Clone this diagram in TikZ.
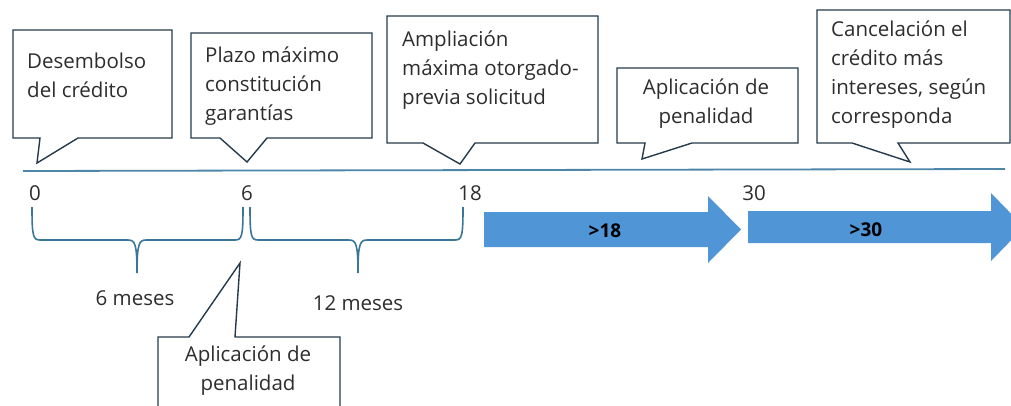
\documentclass[tikz,border=0pt]{standalone}
\usepackage{fontspec}
\setmainfont{Open Sans}
\usetikzlibrary{calc}

\definecolor{boxline}{RGB}{36,58,76}
\definecolor{axisline}{RGB}{78,134,170}
\definecolor{bracecol}{RGB}{58,118,152}
\definecolor{arrowfill}{RGB}{80,149,214}
\definecolor{txt}{RGB}{45,45,45}

\begin{document}
\begin{tikzpicture}[x=1pt,y=-1pt,
	callout/.style={draw=boxline, line width=1.4pt, line join=miter},
	lbl/.style={inner sep=0pt, text=txt, font=\fontsize{20.5}{29}\selectfont, align=left, anchor=north west},
	num/.style={inner sep=0pt, text=txt, font=\fontsize{20.5}{24}\selectfont},
	bracepath/.style={draw=bracecol, line width=1.6pt},
	arrowlbl/.style={inner sep=0pt, font=\fontsize{19}{22}\selectfont\bfseries}]
	\useasboundingbox (0,0) rectangle (1011,405);
	\clip (0,0) rectangle (1011,405);
	% eje de tiempo
	\coordinate (axis start) at (23,171);
	\coordinate (axis end) at (1005,169);
	\draw[draw=axisline, line width=1.8pt] (axis start) -- (axis end);
	% llamadas superiores
	\draw[callout] (13,30) -- (172,30) -- (172,138) -- (78,138) -- (37,163) -- (40,138) -- (13,138) -- cycle;
	\node[lbl] (desembolso) at (27,52.5) {Desembolso\\del crédito};
	\draw[callout] (191,33) -- (372,33) -- (372,138) -- (267,138) -- (247,162) -- (220,138) -- (191,138) -- cycle;
	\node[lbl] (plazo) at (205,47) {Plazo máximo\\constitución\\garantías};
	\draw[callout] (387,16) -- (598,16) -- (598,143) -- (475,143) -- (460,164) -- (423,143) -- (387,143) -- cycle;
	\node[lbl] (ampliacion) at (402,31) {Ampliación\\máxima otorgado-\\previa solicitud};
	\draw[callout] (617,68) -- (798,68) -- (798,143) -- (692,143) -- (642,159) -- (645,143) -- (617,143) -- cycle;
	\node[lbl, align=center, anchor=north] (penalidad top) at (706,79) {Aplicación de\\penalidad};
	\draw[callout] (817,10) -- (1010,10) -- (1010,143) -- (898,143) -- (910,162) -- (852,143) -- (817,143) -- cycle;
	\node[lbl] (cancelacion) at (831,21) {Cancelación el\\crédito más\\intereses, según\\corresponda};
	% marcas
	\node[num] (n0) at (35,193) {0};
	\node[num] (n6) at (247,193) {6};
	\node[num] (n18) at (470,193) {18};
	\node[num] (n30) at (754,193) {30};
	% llaves
	\draw[bracepath] (32,207) .. controls (32,236) and (33,240) .. (40,240) -- (128,240) .. controls (135,240) and (137,244) .. (137,273)
		.. controls (137,244) and (139,240) .. (146,240) -- (235,240) .. controls (242,240) and (243,236) .. (243,207);
	\draw[bracepath] (250,207) .. controls (250,236) and (251,240) .. (258,240) -- (349,240) .. controls (356,240) and (358,244) .. (358,273)
		.. controls (358,244) and (360,240) .. (367,240) -- (455,240) .. controls (462,240) and (463,236) .. (463,207);
	\node[num] (seis) at (135,298) {6 meses};
	\node[num] (doce) at (358,303) {12 meses};
	% llamada inferior
	\draw[callout] (158,420) -- (158,337) -- (189,337) -- (240,263) -- (235,337) -- (340,337) -- (340,420);
	\node[lbl, align=center, anchor=north] (penalidad bottom) at (248,346) {Aplicación de\\penalidad};
	% flechas
	\fill[arrowfill] (484,212) -- (708,212) -- (708,196) -- (741,229.5) -- (708,263) -- (708,247) -- (484,247) -- cycle;
	\node[arrowlbl] (mas18) at (605,230.5) {>18};
	\fill[arrowfill] (748,211) -- (991,211) -- (991,193) -- (1024,227) -- (991,261) -- (991,243) -- (748,243) -- cycle;
	\node[arrowlbl] (mas30) at (866,229.5) {>30};
\end{tikzpicture}
\end{document}
